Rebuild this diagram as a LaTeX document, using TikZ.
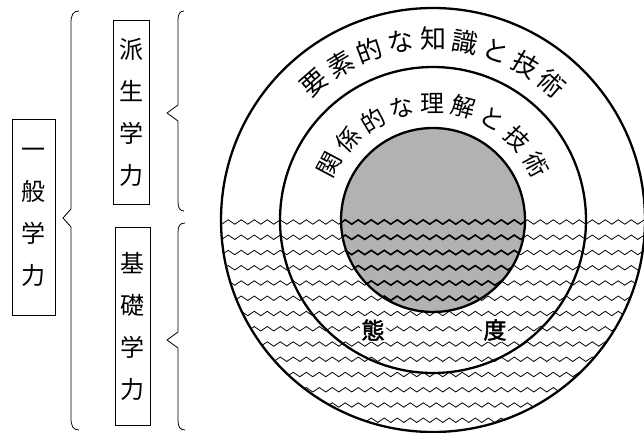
\documentclass[tikz,border=0pt]{standalone}
\usepackage{fontspec}
\setmainfont{Noto Sans CJK JP}
\newfontfamily\cjkbold[FakeBold=2]{Noto Sans CJK JP}
\usetikzlibrary{decorations.pathmorphing}
\begin{document}
\begin{tikzpicture}[x=1pt,y=1pt,
  box/.style={draw,line width=0.8pt,inner sep=0pt,align=center,font=\fontsize{24}{42}\selectfont},
  brace/.style={line width=0.8pt},
  ring/.style={line width=2.3pt},
  wave/.style={decorate,decoration={zigzag,segment length=13pt,amplitude=2.2pt}},
  thinwave/.style={wave,line width=0.8pt},
  thickwave/.style={wave,line width=1.6pt},
  outerlbl/.style={inner sep=0pt,font=\fontsize{26}{26}\selectfont},
  innerlbl/.style={inner sep=0pt,font=\fontsize{24}{24}\selectfont},
  attlbl/.style={fill=white,inner sep=1.5pt,font=\cjkbold\fontsize{23}{23}\selectfont}
]
\useasboundingbox (0,0) rectangle (644,432);
\coordinate (C) at (433,212);

% boxes
\node[box,minimum width=43pt,minimum height=196pt] (ippan) at (33.5,215) {一\\般\\学\\力};
\node[box,minimum width=36pt,minimum height=184pt] (hasei) at (131.5,320) {派\\生\\学\\力};
\node[box,minimum width=35pt,minimum height=198pt] (kiso) at (132.5,106) {基\\礎\\学\\力};

% braces
\draw[brace] (79,421) .. controls (73,421) and (71,417) .. (71,409) -- (71,223) -- (63,214) -- (71,205) -- (71,14) .. controls (71,6) and (73,2) .. (79,2);
\draw[brace] (184,421) .. controls (180,421) and (178,418) .. (178,412) -- (178,327) -- (167,319) -- (178,311) -- (178,230) .. controls (178,224) and (180,221) .. (184,221);
\draw[brace] (185,209) .. controls (180,209) and (178,206) .. (178,200) -- (178,100) -- (167,92) -- (178,84) -- (178,12) .. controls (178,5) and (180,2) .. (185,2);

% inner fill
\fill[black!30] (C) circle (92);

% waves
\begin{scope}
  \clip (C) circle (212);
  \foreach \k in {0,...,13}{
    \pgfmathsetmacro{\yy}{210-15.25*\k}
    \draw[thinwave] (212,\yy) -- (660,\yy);
  }
\end{scope}
\begin{scope}
  \clip (C) circle (92);
  \foreach \k in {0,...,13}{
    \pgfmathsetmacro{\yy}{210-15.25*\k}
    \draw[thickwave] (212,\yy) -- (660,\yy);
  }
\end{scope}

% rings
\draw[ring] (C) circle (212);
\draw[ring] (C) circle (153);
\draw[ring] (C) circle (92);

% arc texts
\foreach \ch [count=\i from 0] in {要,素,的,な,知,識,と,技,術}{
  \pgfmathsetmacro{\ang}{131-10.25*\i}
  \pgfmathsetmacro{\rot}{\ang-90}
  \node[outerlbl,rotate=\rot] (out\i) at ([shift={(\ang:181)}]C) {\ch};
}
\foreach \ch [count=\i from 0] in {関,係,的,な,理,解,と,技,術}{
  \pgfmathsetmacro{\ang}{152-15.44*\i}
  \pgfmathsetmacro{\rot}{\ang-90}
  \node[innerlbl,rotate=\rot] (in\i) at ([shift={(\ang:117)}]C) {\ch};
}

% attitude
\node[attlbl] (tai) at (373,102) {態};
\node[attlbl] (do) at (495,102) {度};
\end{tikzpicture}
\end{document}
